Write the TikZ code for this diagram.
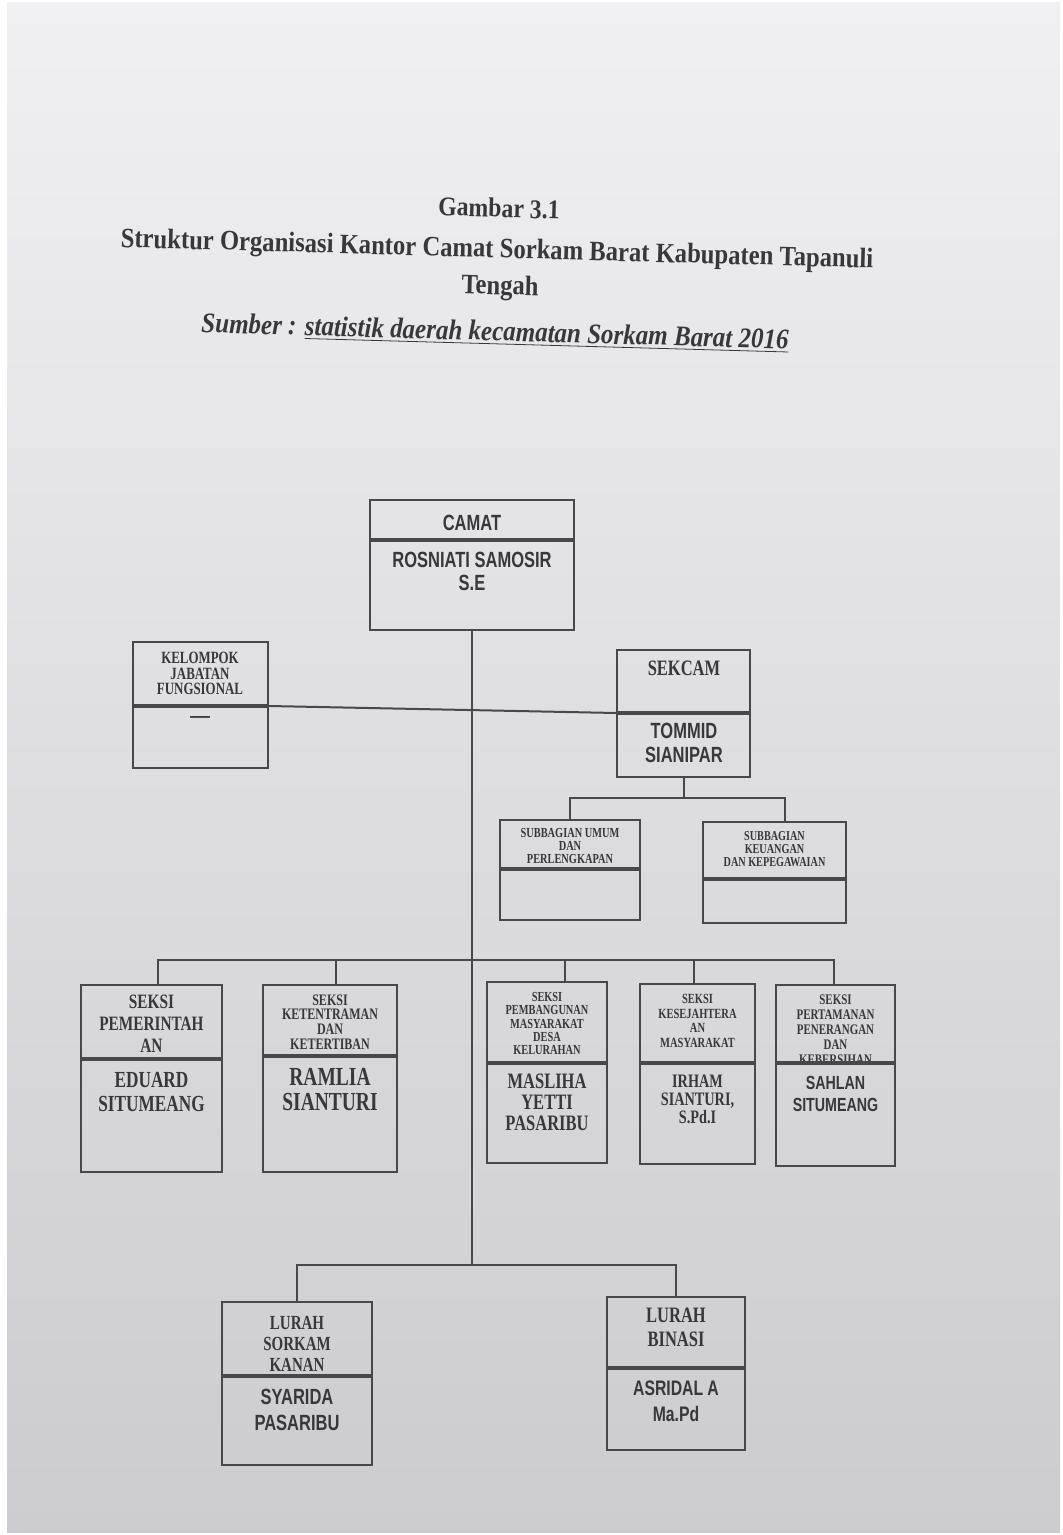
\documentclass[tikz,border=0pt]{standalone}
\usepackage{fontspec}
\setmainfont{Liberation Serif}
\newfontfamily\boxrm[FakeStretch=0.75]{Liberation Serif}
\newfontfamily\boxsf[FakeStretch=0.75]{Liberation Sans}
\newfontfamily\titlerm[FakeStretch=0.88]{Liberation Serif}
\usetikzlibrary{fit}

\definecolor{inkc}{RGB}{55,55,60}
\definecolor{linec}{RGB}{72,72,76}
\definecolor{papertop}{RGB}{240,239,242}
\definecolor{papermid}{RGB}{225,225,228}
\definecolor{paperbot}{RGB}{204,204,208}

\newcommand{\rmsize}[2]{\boxrm\bfseries\fontsize{#1}{#2}\selectfont}
\newcommand{\sfsize}[2]{\boxsf\bfseries\fontsize{#1}{#2}\selectfont}

\tikzset{
  part/.style={draw=linec, line width=1pt, inner sep=0pt},
  divider/.style={draw=linec, line width=2pt},
  conn/.style={draw=linec, line width=1pt},
  txt/.style={inner sep=0pt, align=center, text=inkc},
  title/.style={inner sep=0pt, text=inkc, rotate=-1.6}
}

\begin{document}
\begin{tikzpicture}[x=0.5pt, y=-0.5pt]
  % paper
  \fill[white] (0,0) rectangle (1062,1535);
  \useasboundingbox (0,0) rectangle (1062,1535);
  \shade[top color=papertop, middle color=papermid, bottom color=paperbot] (7,3) rectangle (1060,1532);

  % heading
  \node[title, font=\titlerm\bfseries\fontsize{13.5}{15}\selectfont] (gambar) at (499,208) {Gambar 3.1};
  \node[title, font=\titlerm\bfseries\fontsize{14}{16}\selectfont] (judul) at (497,251)
    {Struktur Organisasi Kantor Camat Sorkam Barat Kabupaten Tapanuli};
  \node[title, font=\titlerm\bfseries\fontsize{14}{16}\selectfont] (tengah) at (500,288) {Tengah};
  \node[title, font=\titlerm\bfseries\itshape\fontsize{14.2}{16}\selectfont] (sumber) at (495,333)
    {Sumber : \underline{statistik daerah kecamatan Sorkam Barat 2016}};

  % boxes: header part and name part
  \node[part, fit={(370,500) (574,539)}] (camat-h) {};
  \node[part, fit={(370,539) (574,630)}] (camat-b) {};
  \node[part, fit={(133,642) (268,705)}] (kelompok-h) {};
  \node[part, fit={(133,705) (268,768)}] (kelompok-b) {};
  \node[part, fit={(617,650) (750,712)}] (sekcam-h) {};
  \node[part, fit={(617,712) (750,777)}] (sekcam-b) {};
  \node[part, fit={(500,820) (640,868)}] (subumum-h) {};
  \node[part, fit={(500,868) (640,920)}] (subumum-b) {};
  \node[part, fit={(703,822) (846,878)}] (subkeu-h) {};
  \node[part, fit={(703,878) (846,923)}] (subkeu-b) {};
  \node[part, fit={(81,985) (222,1058)}] (seksi1-h) {};
  \node[part, fit={(81,1058) (222,1172)}] (seksi1-b) {};
  \node[part, fit={(263,985) (397,1055)}] (seksi2-h) {};
  \node[part, fit={(263,1055) (397,1172)}] (seksi2-b) {};
  \node[part, fit={(487,982) (607,1062)}] (seksi3-h) {};
  \node[part, fit={(487,1062) (607,1163)}] (seksi3-b) {};
  \node[part, fit={(640,984) (755,1062)}] (seksi4-h) {};
  \node[part, fit={(640,1062) (755,1164)}] (seksi4-b) {};
  \node[part, fit={(776,985) (895,1062)}] (seksi5-h) {};
  \node[part, fit={(776,1062) (895,1166)}] (seksi5-b) {};
  \node[part, fit={(222,1302) (372,1375)}] (lurah1-h) {};
  \node[part, fit={(222,1375) (372,1465)}] (lurah1-b) {};
  \node[part, fit={(607,1297) (745,1367)}] (lurah2-h) {};
  \node[part, fit={(607,1367) (745,1450)}] (lurah2-b) {};

  % texts
  \node[txt, font=\sfsize{11}{12}] (camat-t) at (472,523) {CAMAT};
  \node[txt, font=\sfsize{11}{11.5}] (camat-n) at (472,571.5) {ROSNIATI SAMOSIR\\S.E};
  \node[txt, font=\rmsize{8.6}{7.75}] (kelompok-t) at (200,673.5) {KELOMPOK\\JABATAN\\FUNGSIONAL};
  \node[txt, font=\rmsize{13}{14}] (kelompok-n) at (200,720) {\textemdash};
  \node[txt, font=\rmsize{11}{12}] (sekcam-t) at (684,668) {SEKCAM};
  \node[txt, font=\sfsize{11}{12}] (sekcam-n) at (684,743) {TOMMID\\SIANIPAR};
  \node[txt, font=\rmsize{6.9}{6.5}] (subumum-t) at (570,846) {SUBBAGIAN UMUM\\DAN\\PERLENGKAPAN};
  \node[txt, font=\rmsize{6.8}{6.5}] (subkeu-t) at (774.5,849) {SUBBAGIAN\\KEUANGAN\\DAN KEPEGAWAIAN};
  \node[txt, font=\rmsize{10.2}{11}] (seksi1-t) at (151.5,1024) {SEKSI\\PEMERINTAH\\AN};
  \node[txt, font=\rmsize{11.5}{12}] (seksi1-n) at (151.5,1092) {EDUARD\\SITUMEANG};
  \node[txt, font=\rmsize{8}{7.3}] (seksi2-t) at (330,1022) {SEKSI\\KETENTRAMAN\\DAN\\KETERTIBAN};
  \node[txt, font=\rmsize{13}{12.5}] (seksi2-n) at (330,1089.5) {RAMLIA\\SIANTURI};
  \node[txt, font=\rmsize{6.9}{6.6}] (seksi3-t) at (547,1023.5) {SEKSI\\PEMBANGUNAN\\MASYARAKAT\\DESA\\KELURAHAN};
  \node[txt, font=\rmsize{11}{10.5}] (seksi3-n) at (547,1102) {MASLIHA\\YETTI\\PASARIBU};
  \node[txt, font=\rmsize{7}{7.3}] (seksi4-t) at (697.5,1021) {SEKSI\\KESEJAHTERA\\AN\\MASYARAKAT};
  \node[txt, font=\rmsize{9.5}{9}] (seksi4-n) at (697.5,1099) {IRHAM\\SIANTURI,\\S.Pd.I};
  \begin{scope}
    \clip (seksi5-h.south west) rectangle (seksi5-h.north east);
    \node[txt, font=\rmsize{7.3}{7.5}] (seksi5-t) at (835.5,1030) {SEKSI\\PERTAMANAN\\PENERANGAN\\DAN\\KEBERSIHAN};
  \end{scope}
  \node[txt, font=\sfsize{9.5}{11}] (seksi5-n) at (835.5,1094) {SAHLAN\\SITUMEANG};
  \node[txt, font=\rmsize{10}{10.5}] (lurah1-t) at (297,1344) {LURAH\\SORKAM\\KANAN};
  \node[txt, font=\sfsize{11}{13}] (lurah1-n) at (297,1410) {SYARIDA\\PASARIBU};
  \node[txt, font=\rmsize{11}{12}] (lurah2-t) at (676,1327) {LURAH\\BINASI};
  \node[txt, font=\sfsize{10.5}{13}] (lurah2-n) at (676,1401) {ASRIDAL A\\Ma.Pd};

  % thick lines between header and name
  \foreach \b in {camat,kelompok,sekcam,subumum,subkeu,seksi1,seksi2,seksi3,seksi4,seksi5,lurah1,lurah2}
    \draw[divider] (\b-h.south west) -- (\b-h.south east);

  % connectors
  \coordinate (sbar) at (472,960);
  \coordinate (lbar) at (472,1265);
  \draw[conn] (camat-b.south) -- (lbar);
  \draw[conn] (kelompok-h.south east) -- (sekcam-h.south west);
  \draw[conn] (sekcam-b.south) -- ++(0,20) -| (subumum-h.north);
  \draw[conn] (sekcam-b.south) -- ++(0,20) -| ([xshift=5pt]subkeu-h.north);
  \foreach \s/\dx in {seksi1/3,seksi2/3,seksi3/9,seksi4/-2,seksi5/-1}
    \draw[conn] (sbar) -| ([xshift=\dx pt]\s-h.north);
  \foreach \s in {lurah1,lurah2}
    \draw[conn] (lbar) -| (\s-h.north);
\end{tikzpicture}
\end{document}
